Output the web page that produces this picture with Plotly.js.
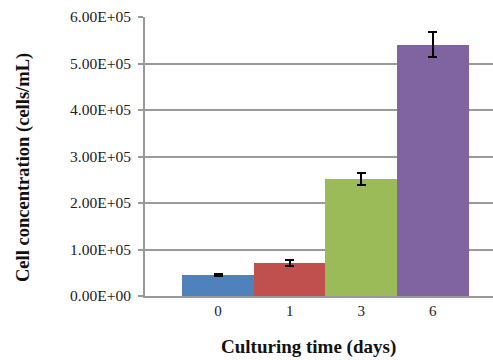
<!DOCTYPE html>
<html>
<head>
<meta charset="utf-8">
<script src="https://cdn.plot.ly/plotly-3.0.1.min.js"></script>
<style>html,body{margin:0;padding:0;background:#fff;}#chart{width:493px;height:360px;}</style>
</head>
<body>
<div id="chart"></div>
<script>
// Data
var categories = ["0", "1", "3", "6"];
var cellConcentration = [45000, 71000, 251000, 540000];
var errorValues = [3000, 5500, 12500, 27000];
var barColors = ["#4F81BD", "#C0504D", "#9BBB59", "#8064A2"];
var yTickVals = [0, 100000, 200000, 300000, 400000, 500000, 600000];
var yTickText = ["0.00E+00", "1.00E+05", "2.00E+05", "3.00E+05", "4.00E+05", "5.00E+05", "6.00E+05"];
var xTitle = "Culturing time (days)";
var yTitle = "Cell concentration (cells/mL)";

var serif = "'Liberation Serif', 'Times New Roman', serif";

var trace = {
  type: "bar",
  x: categories,
  y: cellConcentration,
  marker: { color: barColors, line: { width: 0 } },
  error_y: { type: "data", array: errorValues, visible: true, color: "#000", thickness: 2, width: 4.5 },
  hoverinfo: "x+y"
};

var layout = {
  width: 493,
  height: 360,
  margin: { l: 145, r: 0, t: 17, b: 64, pad: 0 },
  paper_bgcolor: "#fff",
  plot_bgcolor: "#fff",
  showlegend: false,
  bargap: 0,
  font: { family: serif, size: 15, color: "#222" },
  xaxis: {
    type: "category",
    range: [-1.02, 3.84],
    showgrid: false,
    zeroline: false,
    showline: true,
    linecolor: "#999999",
    linewidth: 2,
    ticks: "",
    tickfont: { family: serif, size: 15, color: "#222" },
    fixedrange: true
  },
  yaxis: {
    range: [0, 600000],
    tickvals: yTickVals,
    ticktext: yTickText,
    showgrid: true,
    gridcolor: "#9a9a9a",
    gridwidth: 2,
    zeroline: false,
    showline: true,
    linecolor: "#999999",
    linewidth: 2,
    ticks: "outside",
    ticklen: 5,
    tickwidth: 2,
    tickcolor: "#999999",
    ticklabelstandoff: 4,
    tickfont: { family: serif, size: 15.5, color: "#222" },
    automargin: false,
    fixedrange: true
  },
  annotations: [{
    text: "<b>" + xTitle + "</b>",
    xref: "paper", yref: "paper",
    x: (308 - 145) / 348, y: -0.183,
    xanchor: "center", yanchor: "middle",
    showarrow: false,
    font: { family: serif, size: 19, color: "#111" }
  }, {
    text: "<b>" + yTitle + "</b>",
    xref: "paper", yref: "paper",
    x: (23 - 145) / 348, y: (296 - 168) / 279,
    xanchor: "center", yanchor: "middle",
    textangle: -90,
    showarrow: false,
    font: { family: serif, size: 18.5, color: "#111" }
  }]
};

Plotly.newPlot("chart", [trace], layout, { displayModeBar: false, staticPlot: true });
</script>
</body>
</html>
